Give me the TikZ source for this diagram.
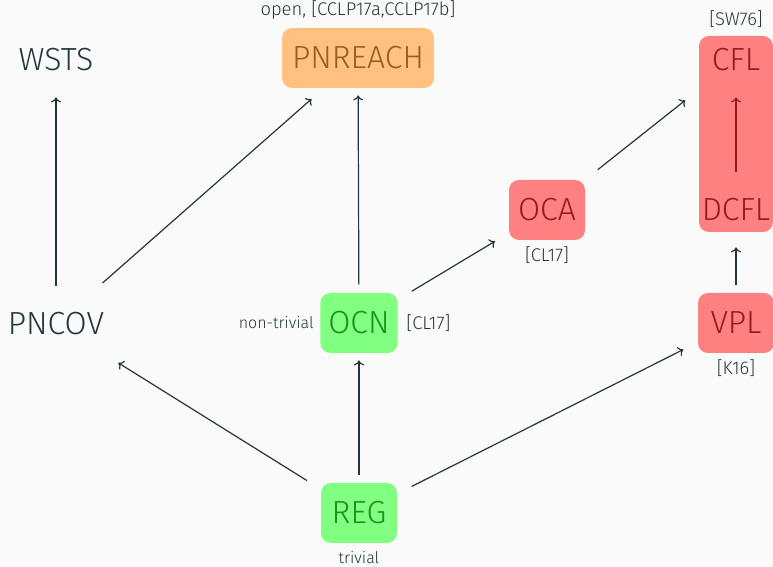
\documentclass[tikz,border=0pt]{standalone}
\usepackage{fontspec}
\setmainfont{Fira Sans Light}
\usepackage{xcolor}
\usepackage{tikz}
\usetikzlibrary{positioning, arrows.meta}

\definecolor{mdark}{HTML}{23373B}
\definecolor{mback}{HTML}{FAFAFA}
\definecolor{goodfill}{HTML}{80FF80}
\definecolor{goodtext}{HTML}{1E8E1E}
\definecolor{badfill}{HTML}{FF8080}
\definecolor{badtext}{HTML}{961C1C}
\definecolor{openfill}{HTML}{FFC080}
\definecolor{opentext}{HTML}{94601E}

\begin{document}
\begin{tikzpicture}[
    x=0.5pt, y=-0.5pt,
    font=\fontsize{9.2}{11}\selectfont,
    every node/.append style={text=mdark},
    classnode/.style={rounded corners=5pt, minimum width=38pt, minimum height=30pt, inner xsep=4pt, font=\fontsize{16}{19}\selectfont},
    goodnode/.style={classnode, fill=goodfill, text=goodtext},
    badnode/.style={classnode, fill=badfill, text=badtext},
    opennode/.style={classnode, fill=openfill, text=opentext, inner xsep=5pt},
    reftext/.style={inner sep=1pt},
    remark/.style={reftext, font=\fontsize{8}{10}\selectfont},
    edge/.style={-{To[length=2.5pt, width=5pt]}, draw=mdark, line width=0.6pt, shorten <=4pt, shorten >=3.5pt},
    slant/.style={edge, shorten <=8pt, shorten >=8pt}
]
\fill[mback] (0,0) rectangle (773,567);
\useasboundingbox (0,0) rectangle (773,567);

% classes
\node (wsts) [classnode] at (56,60) {WSTS};
\node (pnreach) [opennode] at (358,58) {PNREACH};
\node (pncov) [classnode] at (56,324) {PNCOV};
\node (ocn) [goodnode] at (359,323) {OCN};
\node (reg) [goodnode] at (359,513) {REG};
\node (oca) [badnode] at (547,210) {OCA};
\node (vpl) [badnode] at (736,323) {VPL};
\node (cflbox) [badnode, minimum width=37pt, minimum height=98pt] at (736,134) {};
\node (cfl) [classnode, text=badtext] at (736,60) {CFL};
\node (dcfl) [classnode, text=badtext] at (736,210) {DCFL};

% references
\node (pnreachref) [reftext, above=3pt of pnreach] {open, [CCLP17a,CCLP17b]};
\node (cflref) [reftext, above=3pt of cflbox] {[SW76]};
\node (ocaref) [reftext, below=2pt of oca] {[CL17]};
\node (ocnleft) [remark, left=2pt of ocn] {non-trivial};
\node (ocnright) [reftext, right=3pt of ocn] {[CL17]};
\node (vplref) [reftext, below=2pt of vpl] {[K16]};
\node (regref) [remark, below=3pt of reg] {trivial};

% inclusions
\draw[edge] (pncov) -- (wsts);
\draw[slant] (pncov) -- (pnreach);
\draw[edge] (ocn) -- (pnreach);
\draw[slant] (ocn) -- (oca);
\draw[slant] (oca) -- (cfl);
\draw[edge] (vpl) -- (dcfl);
\draw[edge, draw=badtext] (dcfl) -- (cfl);
\draw[slant] (reg) -- (pncov);
\draw[edge] (reg) -- (ocn);
\draw[slant] (reg) -- (vpl);
\end{tikzpicture}
\end{document}
